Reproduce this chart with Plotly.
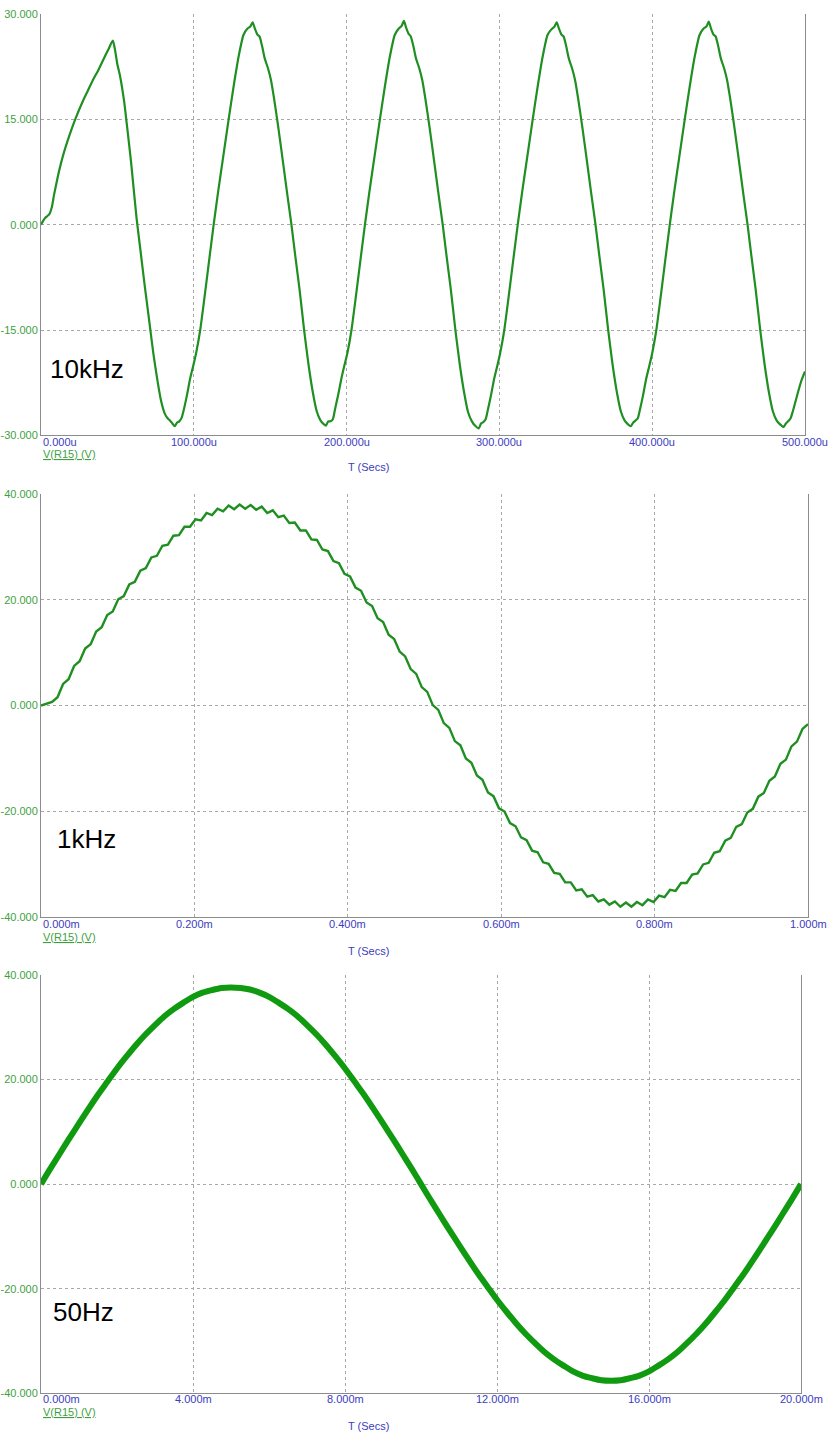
import plotly.graph_objects as go

# ---------------- Panel 1 : 10 kHz  (time in microseconds) ----------------
t10_start = [0, 1.0, 2.5, 4.0, 5.5, 7.0, 8.5, 10.0, 12.0, 14.5, 17.5, 20.5, 23.5, 27.0, 30.5,
             34.0, 37.5, 41.0, 44.0, 47.0, 48.5, 50.0, 51.5, 53.0, 54.5, 56.0, 59.0, 62.5,
             65.0, 68.0, 71.0, 73.5, 76.0, 78.5, 81.0, 83.0, 84.5, 86.0]
v10_start = [0.0, 0.4, 0.9, 1.2, 1.5, 2.4, 4.2, 5.8, 7.8, 9.9, 12.0, 13.9, 15.6, 17.4, 19.0,
             20.6, 22.0, 23.6, 24.9, 26.2, 24.8, 22.8, 21.4, 19.6, 17.4, 14.6, 8.8, 1.0,
             -3.5, -8.9, -14.0, -18.3, -21.9, -25.0, -26.9, -27.6, -27.9, -28.3]

t10_c1 = [87.5, 89, 90.5, 92, 93.5, 95.5, 97.5, 99.5, 101.5, 104.2, 106.5, 109.5, 113, 116, 119,
          122.8, 126, 129.3, 132.5, 135, 137, 138.5, 140, 141.5, 143, 144.5, 146.5, 148.5, 150.5,
          152.5, 155.2, 158.5, 161, 163.9, 166.5, 169.2, 172.2, 175, 178, 180.5, 183, 185]
v10_c1 = [-28.7, -28.2, -28.0, -27.5, -26.3, -24.3, -22.0, -20.2, -18.3, -15.0, -11.2, -6.0, 0.0,
          4.8, 9.3, 15.0, 19.6, 23.9, 27.0, 27.9, 28.2, 28.8, 27.9, 27.1, 26.8, 25.6, 23.6, 22.3,
          20.6, 18.0, 14.0, 8.7, 4.6, 0.0, -4.6, -9.2, -15.0, -19.8, -24.0, -26.6, -27.9, -28.4]

t10_c2 = [186.5, 188, 189.5, 191, 192.5, 194.5, 196.5, 198.5, 200.5, 203.2, 205.5, 208.5, 212, 215,
          218, 221.8, 225, 228.3, 231.5, 234, 236, 237.5, 239, 240.5, 242, 243.5, 245.5, 247.5,
          249.5, 251.5, 254.2, 257.5, 260, 262.9, 265.5, 268.2, 271.2, 274, 277, 279.5, 282, 284]
v10_c2 = [-28.6, -28.0, -28.0, -27.7, -26.2, -24.2, -22.0, -20.1, -18.3, -15.0, -11.2, -6.0, 0.0,
          4.8, 9.3, 15.0, 19.6, 23.9, 27.0, 27.9, 28.3, 29.0, 28.0, 27.2, 26.8, 25.6, 23.6, 22.3,
          20.6, 18.0, 14.0, 8.7, 4.6, 0.0, -4.6, -9.2, -15.0, -19.8, -24.0, -26.7, -28.0, -28.6]

t10_c3 = [286.5, 288, 289.5, 291, 292.5, 294.5, 296.5, 298.5, 300.5, 303.2, 305.5, 308.5, 312, 315,
          318, 321.8, 325, 328.3, 331.5, 334, 336, 337.5, 339, 340.5, 342, 343.5, 345.5, 347.5,
          349.5, 351.5, 354.2, 357.5, 360, 362.9, 365.5, 368.2, 371.2, 374, 377, 379.5, 382, 384]
v10_c3 = [-29.0, -28.3, -28.1, -27.7, -26.3, -24.3, -22.0, -20.2, -18.3, -15.0, -11.2, -6.0, 0.0,
          4.8, 9.3, 15.0, 19.6, 23.9, 27.0, 27.8, 28.2, 28.8, 27.9, 27.1, 26.8, 25.6, 23.6, 22.3,
          20.6, 18.0, 14.0, 8.7, 4.6, 0.0, -4.6, -9.2, -15.0, -19.8, -24.0, -26.6, -27.9, -28.4]

t10_c4 = [386, 387.5, 389, 390.5, 392, 394, 396, 398, 400, 402.7, 405, 408, 411.5, 414.5, 417.5,
          421.3, 424.5, 427.8, 431, 433.5, 435.5, 437, 438.5, 440, 441.5, 443, 445, 447, 449, 451,
          453.7, 457, 459.5, 462.4, 465, 467.7, 470.7, 473.5, 476.5, 479, 481.5, 483.5]
v10_c4 = [-28.7, -28.2, -27.9, -27.6, -26.3, -24.3, -22.0, -20.2, -18.3, -15.0, -11.2, -6.0, 0.0,
          4.8, 9.3, 15.0, 19.6, 23.9, 27.0, 27.9, 28.2, 28.9, 27.9, 27.1, 26.8, 25.6, 23.6, 22.3,
          20.6, 18.0, 14.0, 8.7, 4.6, 0.0, -4.6, -9.2, -15.0, -19.8, -24.0, -26.6, -27.9, -28.4]

t10_c5 = [486, 487.5, 489, 490.5, 492, 494, 496, 498, 500]
v10_c5 = [-28.8, -28.3, -28.0, -27.6, -26.6, -25.0, -23.4, -22.0, -20.9]

# ---------------- Panel 2 : 1 kHz  (140 evenly spaced samples over 0..1 ms) ----------------
v1k = [0.0, 0.4, 0.7, 1.6, 4.1, 5.0, 7.5, 8.4, 10.8, 11.6, 14.0, 14.8, 17.1, 17.8, 20.1, 20.7,
       22.9, 23.4, 25.5, 26.0, 28.0, 28.3, 30.2, 30.4, 32.1, 32.2, 33.8, 33.8, 35.2, 35.0, 36.4,
       36.0, 37.2, 36.7, 37.8, 37.1, 38.0, 37.2, 37.9, 37.0, 37.6, 36.4, 36.9, 35.6, 35.9, 34.5,
       34.6, 33.1, 33.1, 31.4, 31.3, 29.5, 29.2, 27.3, 26.9, 24.9, 24.4, 22.3, 21.7, 19.5, 18.8,
       16.5, 15.8, 13.4, 12.6, 10.2, 9.3, 6.9, 6.0, 3.5, 2.6, 0.1, -0.8, -3.3, -4.2, -6.7, -7.5,
       -10.0, -10.8, -13.2, -14.0, -16.4, -17.1, -19.4, -20.0, -22.2, -22.8, -24.9, -25.4, -27.4,
       -27.7, -29.6, -29.9, -31.6, -31.8, -33.4, -33.4, -34.9, -34.7, -36.1, -35.8, -37.0, -36.6,
       -37.6, -37.0, -38.0, -37.2, -38.0, -37.1, -37.7, -36.6, -37.1, -35.9, -36.2, -34.8, -35.0,
       -33.5, -33.5, -31.9, -31.7, -30.0, -29.7, -27.8, -27.5, -25.5, -25.0, -22.9, -22.4, -20.2,
       -19.5, -17.2, -16.5, -14.2, -13.4, -11.0, -10.2, -7.7, -6.8, -4.4, -3.5]

# ---------------- Panel 3 : 50 Hz  (81 samples, 0.25 ms apart over 0..20 ms) ----------------
v50 = [0.0, 3.0, 5.9, 8.8, 11.6, 14.4, 17.1, 19.6, 22.1, 24.4, 26.6, 28.6, 30.4, 32.1, 33.5,
       34.7, 35.8, 36.6, 37.1, 37.5, 37.6, 37.5, 37.2, 36.6, 35.8, 34.7, 33.5, 32.1, 30.4, 28.6,
       26.6, 24.4, 22.1, 19.6, 17.1, 14.4, 11.6, 8.8, 5.9, 3.0, 0.0, -3.0, -5.9, -8.8, -11.6,
       -14.4, -17.1, -19.6, -22.1, -24.4, -26.6, -28.6, -30.4, -32.1, -33.5, -34.7, -35.8, -36.6,
       -37.1, -37.5, -37.6, -37.5, -37.1, -36.6, -35.8, -34.7, -33.5, -32.1, -30.4, -28.6, -26.6,
       -24.4, -22.1, -19.6, -17.1, -14.4, -11.6, -8.8, -5.9, -3.0, 0.0]

# ---------------- Axis ticks & labels ----------------
x1_ticks = [0, 100, 200, 300, 400, 500]
x1_text = ["0.000u", "100.000u", "200.000u", "300.000u", "400.000u", "500.000u"]
y1_ticks = [-30, -15, 0, 15, 30]
y1_text = ["-30.000", "-15.000", "0.000", "15.000", "30.000"]

x2_ticks = [0, 0.2, 0.4, 0.6, 0.8, 1.0]
x2_text = ["0.000m", "0.200m", "0.400m", "0.600m", "0.800m", "1.000m"]
y2_ticks = [-40, -20, 0, 20, 40]
y2_text = ["-40.000", "-20.000", "0.000", "20.000", "40.000"]

x3_ticks = [0, 4, 8, 12, 16, 20]
x3_text = ["0.000m", "4.000m", "8.000m", "12.000m", "16.000m", "20.000m"]
y3_ticks = [-40, -20, 0, 20, 40]
y3_text = ["-40.000", "-20.000", "0.000", "20.000", "40.000"]

freq_labels = ["10kHz", "1kHz", "50Hz"]
trace_label = "V(R15) (V)"
x_title = "T (Secs)"

# ---------------- Figure ----------------
W, H = 831, 1442
FONT = "Liberation Sans, Arial, sans-serif"
GREEN_TXT = "#3f9f3f"
BLUE_TXT = "#3c3cbe"
GRID = "#a8a8a8"
AXIS = "#8c8c8c"


def px_x(p):
    return p / W


def px_y(p):
    return 1 - p / H


t10 = t10_start + t10_c1 + t10_c2 + t10_c3 + t10_c4 + t10_c5
v10 = v10_start + v10_c1 + v10_c2 + v10_c3 + v10_c4 + v10_c5

fig = go.Figure()
fig.add_trace(go.Scatter(x=t10, y=v10, mode="lines",
                         line=dict(color="#1f8f22", width=2.2, shape="spline", smoothing=0.6),
                         xaxis="x", yaxis="y", showlegend=False))
fig.add_trace(go.Scatter(y=v1k, x0=0, dx=1.0 / (len(v1k) - 1), mode="lines",
                         line=dict(color="#1f8f22", width=2.4), xaxis="x2", yaxis="y2",
                         showlegend=False))
fig.add_trace(go.Scatter(y=v50, x0=0, dx=20.0 / (len(v50) - 1), mode="lines",
                         line=dict(color="#109a10", width=6, shape="spline", smoothing=0.8),
                         xaxis="x3", yaxis="y3", showlegend=False))

panels = [
    ((41, 805), (8, 433), [0, 500], [-30, 30], x1_ticks, x1_text, y1_ticks, y1_text, 440, 452, 465, (87, 366)),
    ((41, 808), (492, 919), [0, 1.0], [-40, 40], x2_ticks, x2_text, y2_ticks, y2_text, 926, 939, 953, (86, 840)),
    ((41, 801), (977, 1399), [0, 20], [-40, 40], x3_ticks, x3_text, y3_ticks, y3_text, 1405, 1418, 1432, (83, 1317)),
]

annotations = []
for i, (xd, yd, xr, yr, xt, xtx, yt, ytx, tly, trly, tiy, fpos) in enumerate(panels):
    n = "" if i == 0 else str(i + 1)
    fig.update_layout(**{
        "xaxis" + n: dict(
            domain=[px_x(xd[0]), px_x(xd[1])], range=xr, anchor="y" + n,
            tickvals=xt, showticklabels=False, ticks="",
            showgrid=True, gridcolor=GRID, griddash="3px,3px", gridwidth=1,
            showline=True, linecolor=AXIS, linewidth=1, zeroline=False, fixedrange=True,
        ),
        "yaxis" + n: dict(
            domain=[px_y(yd[1]), px_y(yd[0])], range=yr, anchor="x" + n,
            tickvals=yt, ticktext=ytx, ticks="",
            tickfont=dict(family=FONT, size=11, color=GREEN_TXT),
            showgrid=True, gridcolor=GRID, griddash="3px,3px", gridwidth=1,
            showline=True, linecolor=AXIS, linewidth=1, mirror=True, zeroline=False,
            fixedrange=True,
        ),
    })
    xref = "x" + n
    for j, (v, txt) in enumerate(zip(xt, xtx)):
        annotations.append(dict(x=v, y=px_y(tly), xref=xref, yref="paper", text=txt,
                                showarrow=False, xanchor="left" if j == 0 else "center",
                                yanchor="middle",
                                font=dict(family=FONT, size=11, color=BLUE_TXT)))
    annotations.append(dict(x=px_x(xd[0]), y=px_y(trly), xref="paper", yref="paper",
                            text="<u>" + trace_label + "</u>", showarrow=False,
                            xanchor="left", yanchor="middle",
                            font=dict(family=FONT, size=11, color=GREEN_TXT)))
    annotations.append(dict(x=px_x(368), y=px_y(tiy), xref="paper", yref="paper",
                            text=x_title, showarrow=False, xanchor="center", yanchor="middle",
                            font=dict(family=FONT, size=11, color=BLUE_TXT)))
    annotations.append(dict(x=px_x(fpos[0]), y=px_y(fpos[1]), xref="paper", yref="paper",
                            text=freq_labels[i], showarrow=False, xanchor="center",
                            yanchor="middle", font=dict(family=FONT, size=26, color="#000000")))

fig.update_layout(
    width=W, height=H,
    margin=dict(l=0, r=0, t=0, b=0),
    paper_bgcolor="white", plot_bgcolor="white",
    annotations=annotations,
    showlegend=False,
)

fig.write_html(
    "out.html",
    config={"displayModeBar": False},
    post_script="document.body.style.margin='0';document.body.style.padding='0';"
                "document.body.style.overflow='hidden';",
)
